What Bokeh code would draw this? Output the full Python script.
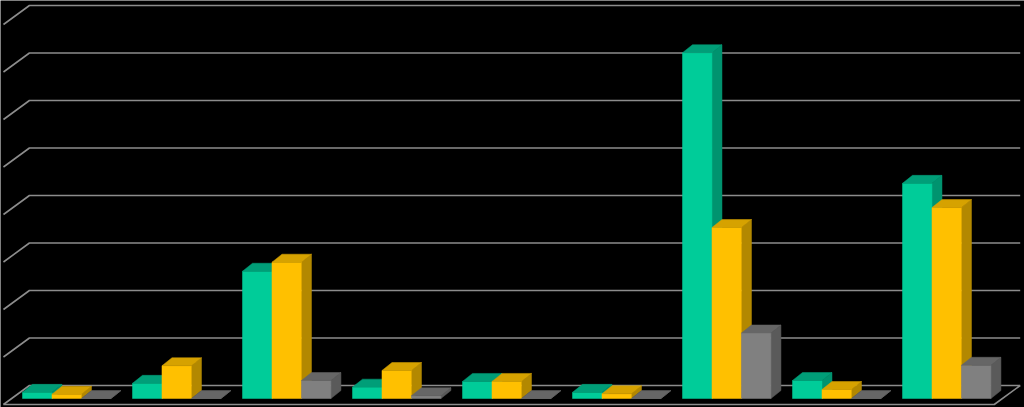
from bokeh.plotting import figure
from bokeh.models import ColumnDataSource, Range1d
from bokeh.embed import file_html
from bokeh.resources import INLINE

# Series values for the nine category groups
categories = ["1", "2", "3", "4", "5", "6", "7", "8", "9"]
series_a = [0.13, 0.32, 2.68, 0.24, 0.36, 0.13, 7.28, 0.38, 4.53]
series_b = [0.09, 0.69, 2.87, 0.59, 0.36, 0.10, 3.60, 0.19, 4.02]
series_c = [0.0, 0.0, 0.38, 0.06, 0.0, 0.0, 1.38, 0.0, 0.70]
grid_values = [0, 1, 2, 3, 4, 5, 6, 7, 8]

# colour triples: front face, top face, side face
palette = [
    ("#00CC99", "#009E78", "#00936F"),
    ("#FFC000", "#D6A200", "#B38800"),
    ("#808080", "#666666", "#5A5A5A"),
]

BAR_W = 0.268        # width of a single bar, in group units
DX, DY = 0.091, 0.168  # bar depth offset (x in group units, y in value units)
WALL_DX, WALL_DY = 0.236, 0.40  # depth of the floor / back wall
WALL_X0 = -0.173
WALL_Y0 = -0.126
WALL_X1 = 9.07

p = figure(width=1024, height=407, output_backend="svg", toolbar_location=None,
           x_range=Range1d(-0.2, 9.109), y_range=Range1d(-0.189, 8.379),
           x_axis_location=None, y_axis_location=None, min_border=0,
           background_fill_color="black", border_fill_color="black")
p.outline_line_color = None
p.grid.visible = False

# back wall gridlines with the slanted side-wall segment on the left
gx, gy = [], []
for g in grid_values:
    front_y = g + WALL_Y0
    back_y = front_y + WALL_DY
    gx.append([WALL_X0, WALL_X0 + WALL_DX, WALL_X1])
    gy.append([front_y, back_y, back_y])
# floor outline (front edge and right slant)
f_y = grid_values[0] + WALL_Y0
gx.append([WALL_X0, WALL_X1 - WALL_DX, WALL_X1])
gy.append([f_y, f_y, f_y + WALL_DY])
p.multi_line(xs=gx, ys=gy, line_color="#8C8C8C", line_width=1.6)

# 3D bars: front, side and top faces
xs, ys, fills = [], [], []
for i in range(len(categories)):
    for k, vals in enumerate([series_a, series_b, series_c]):
        v = vals[i]
        x0 = i + k * BAR_W
        x1 = x0 + BAR_W
        front, top, side = palette[k]
        # side face
        xs.append([x1, x1 + DX, x1 + DX, x1])
        ys.append([0, DY, v + DY, v])
        fills.append(side)
        # front face
        xs.append([x0, x1, x1, x0])
        ys.append([0, 0, v, v])
        fills.append(front)
        # top face
        xs.append([x0, x1, x1 + DX, x0 + DX])
        ys.append([v, v, v + DY, v + DY])
        fills.append(top)

src = ColumnDataSource(dict(xs=xs, ys=ys, fill=fills))
p.patches("xs", "ys", source=src, fill_color="fill", line_color="fill", line_width=0.5)

open("out.html", "w").write(file_html(p, INLINE))
